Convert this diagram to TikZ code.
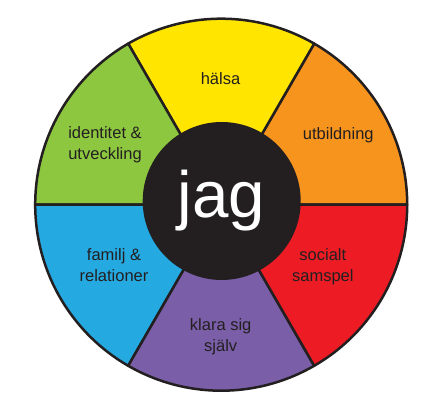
\documentclass[tikz,border=0pt]{standalone}
\usepackage{fontspec}
\setmainfont{Liberation Sans}
\usetikzlibrary{positioning}
\definecolor{wheelyellow}{HTML}{FFE500}
\definecolor{wheelorange}{HTML}{F7941E}
\definecolor{wheelred}{HTML}{ED1C24}
\definecolor{wheelpurple}{HTML}{7A5FA8}
\definecolor{wheelblue}{HTML}{24A9E1}
\definecolor{wheelgreen}{HTML}{8DC63F}
\definecolor{wheelblack}{HTML}{231F20}

\begin{document}
\begin{tikzpicture}[
  x=1pt, y=1pt,
  sector/.style={draw=wheelblack, line width=2.5pt, line join=round},
  area/.style={font=\fontsize{16.5}{21}\selectfont, text=wheelblack, align=center},
  core/.style={circle, fill=wheelblack, minimum size=158pt, inner sep=0pt,
    text=white, font=\fontsize{65.5}{66}\selectfont}
]
\useasboundingbox (0,0) rectangle (441,414);
\coordinate (c) at (221.2,209.3);

% Sectors
\filldraw[sector, fill=wheelorange] (c) -- ++(0:186) arc[start angle=0, end angle=60, radius=186] -- cycle;
\filldraw[sector, fill=wheelyellow] (c) -- ++(60:186) arc[start angle=60, end angle=120, radius=186] -- cycle;
\filldraw[sector, fill=wheelgreen] (c) -- ++(120:186) arc[start angle=120, end angle=180, radius=186] -- cycle;
\filldraw[sector, fill=wheelblue] (c) -- ++(180:186) arc[start angle=180, end angle=240, radius=186] -- cycle;
\filldraw[sector, fill=wheelpurple] (c) -- ++(240:186) arc[start angle=240, end angle=300, radius=186] -- cycle;
\filldraw[sector, fill=wheelred] (c) -- ++(300:186) arc[start angle=300, end angle=360, radius=186] -- cycle;

% Centre
\node[core] (jag) at (221.7,213) {jag};

% Labels
\node[area] (halsa) at (220.5,335.2) {hälsa};
\node[area] (utbildning) at (338.3,279) {utbildning};
\node[area] (identitet) at (105,269) {identitet \&\\utveckling};
\node[area] (familj) at (114,149) {familj \&\\relationer};
\node[area] (socialt) at (322.8,147.3) {socialt\\samspel};
\node[area] (klara) at (220.7,77.3) {klara sig\\själv};

\end{tikzpicture}
\end{document}
